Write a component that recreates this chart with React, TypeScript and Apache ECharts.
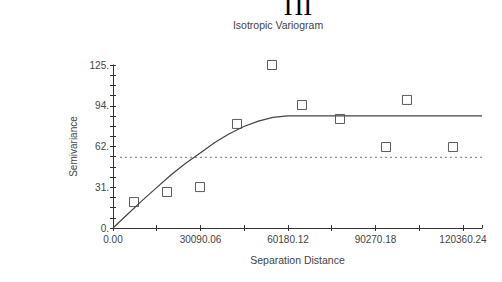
import React, { useEffect, useRef } from "react";
import * as echarts from "echarts";

const chartTitle = "Isotropic Variogram";
const headerText = "ПI";
const xAxisName = "Separation Distance";
const yAxisName = "Semivariance";

// experimental semivariogram points
const lagDistance = [7222, 18570, 29918, 42642, 54678, 64994, 78062, 93880, 101100, 116920];
const semivariance = [19.9, 27.6, 31.4, 79.8, 125.0, 94.3, 83.6, 62.1, 98.2, 62.1];

// fitted model curve
const modelDistance = [0, 5000, 10000, 15000, 20000, 25000, 30000, 35000, 40000, 45000, 50000, 55000, 60000, 126900];
const modelValue = [0, 10.5, 21, 31, 40.8, 49.6, 57.5, 65.6, 72.3, 77.8, 82, 84.8, 86, 86];

// sample variance (dashed line)
const varianceDistance = [2400, 126900];
const varianceValue = [54.2, 54.2];

const xTickLabels = ["0.00", "30090.06", "60180.12", "90270.18", "120360.24"];
const yTickLabels = ["0.", "31.", "62.", "94.", "125."];
const xStep = 30090.06;
const yStep = 31.25;
const xMax = 126900;
const yMax = 125;

const FONT = "Liberation Sans";
const AXIS_COLOR = "#333";
const TEXT_COLOR = "#444";

export default function App() {
  const ref = useRef<HTMLDivElement>(null);
  useEffect(() => {
    if (!ref.current) return;
    const chart = echarts.init(ref.current, undefined, { renderer: "svg" });
    const xLabel = (v: number) => {
      const i = Math.round(v / xStep);
      return Math.abs(v - i * xStep) < 1 && xTickLabels[i] !== undefined ? xTickLabels[i] : "";
    };
    const yLabel = (v: number) => {
      const i = Math.round(v / yStep);
      return Math.abs(v - i * yStep) < 0.01 && yTickLabels[i] !== undefined ? yTickLabels[i] : "";
    };
    const baseX = {
      type: "value" as const,
      min: 0,
      max: xMax,
      interval: xStep / 2,
      splitLine: { show: false },
      position: "bottom" as const,
    };
    const baseY = {
      type: "value" as const,
      min: 0,
      max: yMax,
      interval: yStep,
      splitLine: { show: false },
      position: "left" as const,
    };
    chart.setOption({
      animation: false,
      backgroundColor: "#fff",
      grid: { left: 113, right: 20, top: 65, bottom: 54, containLabel: false },
      graphic: [
        {
          type: "text",
          x: 298,
          y: 19,
          style: {
            text: headerText,
            font: "27px 'Liberation Serif'",
            fill: "#000",
            textAlign: "center",
            textVerticalAlign: "bottom",
          },
        },
        {
          type: "text",
          x: 278,
          y: 25,
          style: {
            text: chartTitle,
            font: `10.5px '${FONT}'`,
            fill: TEXT_COLOR,
            textAlign: "center",
            textVerticalAlign: "middle",
          },
        },
      ],
      xAxis: [
        {
          ...baseX,
          name: xAxisName,
          nameLocation: "middle",
          nameGap: 26,
          nameTextStyle: { fontFamily: FONT, fontSize: 10.5, color: TEXT_COLOR },
          axisLine: { show: true, onZero: false, lineStyle: { color: AXIS_COLOR, width: 1 } },
          axisTick: { show: true, inside: false, length: 3, lineStyle: { color: AXIS_COLOR } },
          axisLabel: {
            show: true,
            margin: 6,
            fontFamily: FONT,
            fontSize: 10,
            color: TEXT_COLOR,
            formatter: xLabel,
            showMaxLabel: false,
            hideOverlap: false,
          },
        },
        {
          ...baseX,
          axisLine: { show: false, onZero: false },
          axisTick: { show: true, inside: true, length: 3, lineStyle: { color: AXIS_COLOR } },
          axisLabel: { show: false },
        },
      ],
      yAxis: [
        {
          ...baseY,
          name: yAxisName,
          nameLocation: "middle",
          nameGap: 28,
          nameTextStyle: { fontFamily: FONT, fontSize: 10, color: TEXT_COLOR },
          axisLine: { show: true, onZero: false, lineStyle: { color: AXIS_COLOR, width: 1 } },
          axisTick: { show: true, inside: false, length: 3, lineStyle: { color: AXIS_COLOR } },
          minorTick: { show: true, splitNumber: 4, length: 3, lineStyle: { color: AXIS_COLOR } },
          axisLabel: {
            show: true,
            margin: 4,
            fontFamily: FONT,
            fontSize: 10,
            color: TEXT_COLOR,
            formatter: yLabel,
            hideOverlap: false,
          },
        },
        {
          ...baseY,
          axisLine: { show: false, onZero: false },
          axisTick: { show: true, inside: true, length: 3, lineStyle: { color: AXIS_COLOR } },
          minorTick: { show: true, splitNumber: 4, length: 3, lineStyle: { color: AXIS_COLOR } },
          axisLabel: { show: false },
        },
      ],
      series: [
        {
          type: "line",
          data: varianceDistance.map((x, i) => [x, varianceValue[i]]),
          symbol: "none",
          lineStyle: { color: "#777", width: 1, type: [2, 3] },
          silent: true,
        },
        {
          type: "line",
          data: modelDistance.map((x, i) => [x, modelValue[i]]),
          symbol: "none",
          smooth: false,
          lineStyle: { color: "#444", width: 1.2 },
          silent: true,
        },
        {
          type: "scatter",
          data: lagDistance.map((x, i) => [x, semivariance[i]]),
          symbol: "rect",
          symbolSize: 9,
          clip: false,
          itemStyle: { color: "rgba(255,255,255,0)", borderColor: "#333", borderWidth: 1 },
        },
      ],
    });
    return () => chart.dispose();
  }, []);
  return (
    <div
      ref={ref}
      style={{ position: "fixed", left: 0, top: 0, width: 502, height: 282, background: "#fff" }}
    />
  );
}
